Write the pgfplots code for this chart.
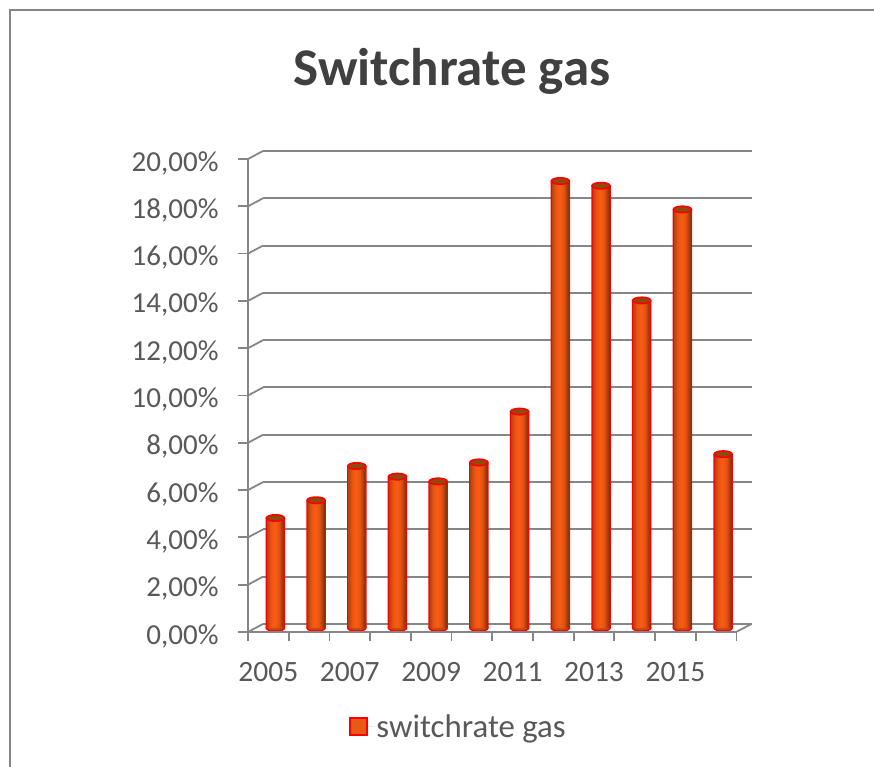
\documentclass[border=0pt]{standalone}
\usepackage{fontspec}
\setmainfont{Carlito}
\usepackage{pgfplots}
\pgfplotsset{compat=1.18}
\definecolor{axisgray}{HTML}{868686}
\definecolor{textgray}{HTML}{595959}
\definecolor{titlegray}{HTML}{404040}
\definecolor{capfill}{HTML}{8F4A10}
\definecolor{basefill}{HTML}{C84A10}
\definecolor{keyfill}{HTML}{E85A14}
\pgfdeclarehorizontalshading{cyl}{100bp}{
  rgb(0bp)=(0.72,0.27,0.06);
  rgb(25bp)=(0.72,0.27,0.06);
  rgb(36bp)=(0.93,0.33,0.07);
  rgb(48bp)=(0.98,0.36,0.08);
  rgb(60bp)=(0.90,0.32,0.07);
  rgb(75bp)=(0.50,0.20,0.06);
  rgb(100bp)=(0.50,0.20,0.06)}
\pgfdeclareplotmark{captop}{\pgfpathellipse{\pgfpointorigin}{\pgfqpoint{9pt}{0pt}}{\pgfqpoint{0pt}{3.2pt}}\pgfusepathqfillstroke}
\pgfplotsset{cylbar/.style={ybar,bar width=16.5pt,bar shift=0pt,draw=none,shading=cyl,forget plot}}
\begin{document}
\begin{tikzpicture}[x=1pt,y=1pt]
\useasboundingbox (0,0) rectangle (874,767);
\fill[white] (0,0) rectangle (874,767);
\draw[axisgray,line width=2pt] (10,0) -- (10,757) -- (874,757);
\node[font=\bfseries\fontsize{53}{53}\selectfont,text=titlegray,anchor=center] at (452,696) {Switchrate gas};
% back wall
\begin{axis}[
  at={(263pt,143pt)},anchor=south west,scale only axis,
  width=488.5pt,height=473pt,
  xmin=0,xmax=12,ymin=0,ymax=20,
  ytick={0,2,...,20},xtick=\empty,yticklabels={},
  ymajorgrids,
  grid style={axisgray,line width=2pt},
  axis line style={draw=none},
  major tick length=0pt,
]
\addplot[draw=none,forget plot] coordinates {(0,0)};
\end{axis}
\foreach \k in {0,2,...,20} {
  \draw[axisgray,line width=1.8pt] (248,135+23.65*\k) -- (263,143+23.65*\k);
}
\draw[axisgray,line width=1.8pt] (736,135) -- (751.5,143);
% rounded foot of each cylinder
\begin{axis}[
  at={(255pt,139pt)},anchor=south west,scale only axis,
  width=488.5pt,height=473pt,
  xmin=0,xmax=12,ymin=0,ymax=20,
  axis lines=none,clip=false,
]
\addplot[only marks,mark=captop,mark size=1pt,
  mark options={draw=red,fill=basefill,line width=1.6pt},forget plot]
  coordinates {(0.5,0)(1.5,0)(2.5,0)(3.5,0)(4.5,0)(5.5,0)(6.5,0)(7.5,0)(8.5,0)(9.5,0)(10.5,0)(11.5,0)};
\end{axis}
% bars
\begin{axis}[
  at={(255pt,139pt)},anchor=south west,scale only axis,
  width=488.5pt,height=473pt,
  xmin=0,xmax=12,ymin=0,ymax=20,
  axis lines=none,clip=false,
  legend style={at={(0.193,-0.208)},anchor=west,draw=none,fill=none,
    font=\fontsize{32.8}{32.8}\selectfont,text=textgray,
    legend cell align=left,inner sep=0pt,nodes={inner sep=2pt}},
]
% red sides
\addplot[ybar,bar width=19.5pt,bar shift=0pt,draw=none,fill=red,
  legend image code/.code={\path (0pt,0pt) -- (24pt,0pt);
    \draw[draw=red,line width=2pt,fill=keyfill] (0pt,-8.5pt) rectangle (17pt,8.5pt);}]
  coordinates {(0.5,4.65)(1.5,5.4)(2.5,6.85)(3.5,6.4)(4.5,6.2)(5.5,7.0)(6.5,9.15)(7.5,18.9)(8.5,18.7)(9.5,13.85)(10.5,17.7)(11.5,7.35)};
\addlegendentry{switchrate gas}
% shaded cylinder bodies, one plot per bar so each takes the full gradient
\addplot[cylbar] coordinates {(0.5,4.65)};
\addplot[cylbar] coordinates {(1.5,5.4)};
\addplot[cylbar] coordinates {(2.5,6.85)};
\addplot[cylbar] coordinates {(3.5,6.4)};
\addplot[cylbar] coordinates {(4.5,6.2)};
\addplot[cylbar] coordinates {(5.5,7.0)};
\addplot[cylbar] coordinates {(6.5,9.15)};
\addplot[cylbar] coordinates {(7.5,18.9)};
\addplot[cylbar] coordinates {(8.5,18.7)};
\addplot[cylbar] coordinates {(9.5,13.85)};
\addplot[cylbar] coordinates {(10.5,17.7)};
\addplot[cylbar] coordinates {(11.5,7.35)};
\addplot[only marks,mark=captop,mark size=1pt,
  mark options={draw=red,fill=capfill,line width=1.6pt},forget plot]
  coordinates {(0.5,4.65)(1.5,5.4)(2.5,6.85)(3.5,6.4)(4.5,6.2)(5.5,7.0)(6.5,9.15)(7.5,18.9)(8.5,18.7)(9.5,13.85)(10.5,17.7)(11.5,7.35)};
\end{axis}
% front axis
\begin{axis}[
  at={(248pt,135pt)},anchor=south west,scale only axis,
  width=488.5pt,height=473pt,
  xmin=0,xmax=12,ymin=0,ymax=20,
  axis x line=bottom,axis y line=left,
  axis line style={axisgray,line width=1.8pt,-},
  ytick={0,2,...,20},
  yticklabels={{0,00\%},{2,00\%},{4,00\%},{6,00\%},{8,00\%},{10,00\%},{12,00\%},{14,00\%},{16,00\%},{18,00\%},{20,00\%}},
  xtick={0.5,2.5,...,10.5},
  xticklabels={2005,2007,2009,2011,2013,2015},
  minor xtick={0,1,...,12},
  tick style={axisgray,line width=1.8pt},
  major x tick style={draw=none},
  minor tick length=9pt,
  major tick length=10pt,
  tick pos=lower,
  tick align=outside,
  yticklabel style={font=\fontsize{29}{29}\selectfont,text=textgray,xshift=-16pt,yshift=-4pt},
  xticklabel style={font=\fontsize{29.5}{29.5}\selectfont,text=textgray,yshift=-17pt},
]
\addplot[draw=none,forget plot] coordinates {(0,0)};
\end{axis}
\end{tikzpicture}
\end{document}
